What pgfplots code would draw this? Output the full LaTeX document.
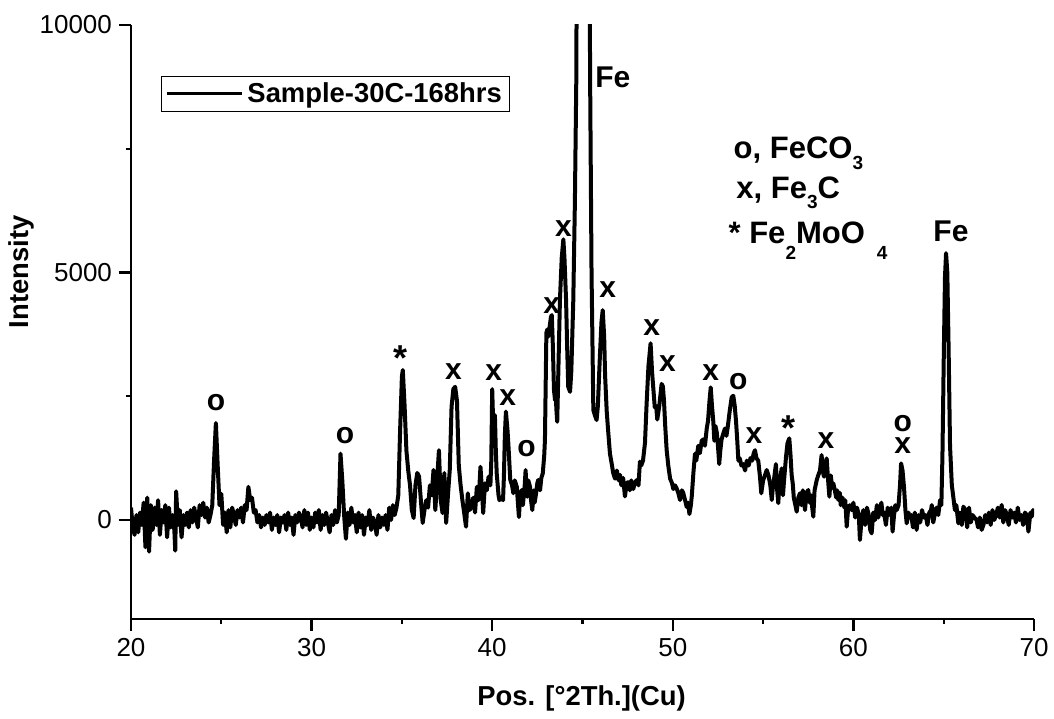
\documentclass[border=0pt]{standalone}
\usepackage{fontspec}
\setmainfont{Liberation Sans}
\usepackage{pgfplots}
\pgfplotsset{compat=1.18}

\newcommand\lbl{\bfseries\fontsize{13.7}{16}\selectfont}
\newcommand\pk{\bfseries\fontsize{15}{17}\selectfont}
\newcommand\cmp{\bfseries\fontsize{15.5}{18}\selectfont}
\newcommand\sub[2]{\raisebox{-#1}{\fontsize{9.5}{10}\selectfont #2}}

\begin{document}
\begin{tikzpicture}
\begin{axis}[
  scale only axis,
  width=451.5pt, height=297pt,
  xmin=20, xmax=70, ymin=-2000, ymax=10000,
  axis x line*=bottom, axis y line*=left,
  axis line style={-, line width=1.2pt},
  xtick={20,30,40,50,60,70},
  ytick={0,5000,10000},
  minor x tick num=1, minor y tick num=1,
  tick align=outside,
  major tick length=6pt, minor tick length=2.5pt,
  tick style={black, line width=1.2pt},
  scaled y ticks=false,
  /pgf/number format/1000 sep={},
  /pgf/number format/assume math mode=true,
  tick label style={font=\fontsize{13}{15}\selectfont},
  xlabel={Pos. [°2Th.](Cu)},
  ylabel={Intensity},
  label style={font=\lbl},
  xlabel style={at={(axis description cs:0.499,-0.1448)}, anchor=base},
  ylabel style={at={(axis description cs:-0.1218,0.5847)}, anchor=center},
  legend style={at={(axis cs:21.66,8969)}, anchor=north west,
    draw=black, line width=0.5pt, fill=white, font=\lbl,
    inner xsep=2pt, inner ysep=1pt},
  legend cell align=left,
  legend image code/.code={\draw[#1,line width=1.5pt] (0pt,0pt) -- (37.5pt,0pt);},
]
\addplot[black, line width=2pt, line join=round] coordinates {
(20.0,250) (20.1,-150) (20.2,-300) (20.3,100) (20.4,-250) (20.5,150) (20.6,-100) (20.7,350)
(20.8,-550) (20.9,450) (21.0,-640) (21.1,300) (21.2,-200) (21.3,250) (21.4,-100) (21.5,400)
(21.6,-300) (21.7,200) (21.8,-50) (21.9,300) (22.0,-350) (22.1,250) (22.2,-150) (22.3,100)
(22.4,-200) (22.45,-620) (22.5,580) (22.6,-100) (22.7,200) (22.8,-350) (22.9,100) (23.0,-100)
(23.1,150) (23.2,-150) (23.3,200) (23.4,-50) (23.5,250) (23.6,50) (23.7,-150) (23.8,300)
(23.9,100) (24.0,350) (24.1,50) (24.2,250) (24.3,-50) (24.4,100) (24.5,300) (24.6,1200)
(24.7,1960) (24.8,1100) (24.9,300) (25.0,530) (25.1,-100) (25.2,150) (25.3,-250) (25.4,200)
(25.5,-150) (25.6,250) (25.7,100) (25.8,-100) (25.9,200) (26.0,50) (26.1,250) (26.2,-50)
(26.3,300) (26.4,200) (26.5,670) (26.6,400) (26.7,450) (26.8,150) (26.9,200) (27.0,-50)
(27.1,100) (27.2,-150) (27.3,50) (27.4,-100) (27.5,100) (27.6,-50) (27.7,150) (27.8,-200)
(27.9,50) (28.0,-100) (28.1,100) (28.2,-250) (28.3,50) (28.4,-50) (28.5,100) (28.6,-200)
(28.7,150) (28.8,-100) (28.9,50) (29.0,-300) (29.1,100) (29.2,-50) (29.3,150) (29.4,50)
(29.5,-150) (29.6,200) (29.7,-100) (29.8,150) (29.9,-200) (30.0,50) (30.1,-150) (30.2,150)
(30.3,-50) (30.4,200) (30.5,-200) (30.6,100) (30.7,-100) (30.8,150) (30.9,-50) (31.0,-250)
(31.1,100) (31.2,-100) (31.3,200) (31.4,-50) (31.5,100) (31.6,1340) (31.7,800) (31.8,100)
(31.9,-380) (32.0,150) (32.1,-100) (32.2,250) (32.3,-50) (32.4,100) (32.5,-250) (32.6,150)
(32.7,-150) (32.8,100) (32.9,-300) (33.0,50) (33.1,-100) (33.2,200) (33.3,-200) (33.4,50)
(33.5,-50) (33.6,-300) (33.7,100) (33.8,-150) (33.9,50) (34.0,-100) (34.1,100) (34.2,-200)
(34.3,250) (34.4,0) (34.5,300) (34.6,100) (34.7,250) (34.8,500) (34.9,1800) (35.0,2900)
(35.05,3030) (35.15,2300) (35.25,1400) (35.35,1000) (35.45,700) (35.55,200) (35.65,40) (35.75,700)
(35.85,950) (35.95,880) (36.05,400) (36.15,-60) (36.25,200) (36.35,400) (36.45,250) (36.55,700)
(36.65,500) (36.75,1010) (36.85,200) (36.95,800) (37.05,1410) (37.15,400) (37.25,140) (37.35,950)
(37.45,-60) (37.55,500) (37.65,1010) (37.75,2290) (37.85,2650) (37.95,2690) (38.05,2400) (38.15,1100)
(38.25,700) (38.35,400) (38.45,140) (38.55,-135) (38.65,540) (38.75,200) (38.85,270) (38.95,450)
(39.05,150) (39.15,670) (39.25,400) (39.35,1075) (39.45,500) (39.5,140) (39.6,740) (39.7,600)
(39.8,875) (39.9,700) (39.95,1200) (40.0,2645) (40.05,2000) (40.1,1885) (40.15,2120) (40.2,1400)
(40.25,940) (40.35,500) (40.4,400) (40.5,450) (40.6,400) (40.65,900) (40.7,1700) (40.76,2190)
(40.85,1800) (40.9,1500) (41.0,810) (41.1,700) (41.17,540) (41.25,800) (41.36,673) (41.48,60)
(41.55,500) (41.63,605) (41.7,300) (41.8,700) (41.85,1010) (41.9,600) (41.94,470) (42.0,800)
(42.09,673) (42.15,400) (42.22,200) (42.3,600) (42.35,350) (42.43,540) (42.5,750) (42.55,810)
(42.65,600) (42.72,850) (42.8,940) (42.88,1300) (42.92,1615) (43.0,3780) (43.05,3850) (43.1,3700)
(43.18,3900) (43.25,4100) (43.3,4140) (43.36,3500) (43.42,2625) (43.48,2420) (43.52,2500) (43.56,2200)
(43.6,1985) (43.65,2800) (43.75,4440) (43.85,5300) (43.94,5670) (44.0,5300) (44.09,4440) (44.15,3500)
(44.21,2690) (44.31,2590) (44.38,3000) (44.49,4440) (44.58,6460) (44.66,9000) (44.75,20000) (45.0,40000)
(45.3,20000) (45.42,9000) (45.5,5000) (45.6,2220) (45.7,2100) (45.78,2020) (45.85,2300) (45.95,3200)
(46.05,4000) (46.12,4240) (46.2,3700) (46.25,2930) (46.34,2200) (46.42,1800) (46.52,1340) (46.62,1130)
(46.7,950) (46.8,836) (46.9,1000) (47.0,800) (47.08,910) (47.15,700) (47.25,850) (47.35,476)
(47.45,750) (47.54,766) (47.62,600) (47.7,800) (47.81,625) (47.9,750) (48.0,806) (48.1,700)
(48.18,1180) (48.25,1100) (48.35,1200) (48.46,1560) (48.55,2350) (48.65,3100) (48.77,3570) (48.85,3000)
(49.0,2280) (49.08,2300) (49.14,2030) (49.25,2300) (49.38,2750) (49.45,2700) (49.51,2420) (49.58,1900)
(49.66,1410) (49.75,1100) (49.85,836) (49.95,750) (50.03,625) (50.12,700) (50.2,650) (50.3,550)
(50.4,404) (50.5,600) (50.58,547) (50.68,400) (50.77,262) (50.85,350) (50.92,120) (51.0,300)
(51.05,480) (51.15,1000) (51.23,1340) (51.3,1200) (51.41,1500) (51.5,1350) (51.6,1600) (51.69,1630)
(51.78,1500) (51.88,1850) (51.95,2000) (52.03,2400) (52.1,2680) (52.17,2300) (52.24,2000) (52.3,1600)
(52.36,1900) (52.43,1780) (52.5,1500) (52.57,1130) (52.63,1400) (52.7,1630) (52.8,1750) (52.89,1850)
(52.97,1700) (53.05,1900) (53.15,2200) (53.26,2480) (53.35,2510) (53.43,2300) (53.5,2000) (53.57,1600)
(53.63,1200) (53.7,1250) (53.8,1100) (53.9,1130) (54.0,1000) (54.1,1200) (54.2,1100) (54.3,1250)
(54.4,1200) (54.48,1350) (54.55,1410) (54.63,1250) (54.73,1200) (54.82,900) (54.9,540) (55.0,800)
(55.1,900) (55.2,1010) (55.3,900) (55.4,700) (55.48,404) (55.55,700) (55.6,808) (55.71,1130)
(55.78,600) (55.84,340) (55.9,700) (55.97,900) (56.03,1044) (56.1,500) (56.16,800) (56.27,1280)
(56.35,1550) (56.45,1650) (56.52,1300) (56.58,910) (56.64,740) (56.7,450) (56.77,330) (56.86,168)
(56.95,450) (57.04,540) (57.12,300) (57.2,600) (57.32,200) (57.4,550) (57.5,606) (57.58,350)
(57.65,500) (57.72,250) (57.78,67) (57.85,600) (57.97,808) (58.05,900) (58.15,1000) (58.24,1313)
(58.3,1000) (58.37,875) (58.45,1150) (58.52,1245) (58.6,800) (58.67,470) (58.75,900) (58.82,650)
(58.89,740) (58.97,600) (59.05,450) (59.1,600) (59.17,404) (59.25,550) (59.3,300) (59.4,450)
(59.5,250) (59.55,400) (59.63,-135) (59.7,200) (59.8,300) (59.9,200) (60.0,350) (60.1,50)
(60.2,250) (60.3,100) (60.36,-404) (60.45,0) (60.55,200) (60.65,-100) (60.75,250) (60.85,100)
(60.93,-200) (61.01,-270) (61.1,150) (61.2,0) (61.3,300) (61.38,50) (61.47,236) (61.55,350)
(61.62,100) (61.7,150) (61.8,-100) (61.9,250) (61.97,100) (62.03,135) (62.1,250) (62.17,-235)
(62.25,100) (62.32,300) (62.4,200) (62.5,300) (62.58,700) (62.64,1145) (62.72,1000) (62.8,673)
(62.88,200) (62.95,-67) (63.05,150) (63.12,50) (63.2,100) (63.3,-150) (63.4,150) (63.5,-200)
(63.6,100) (63.7,-50) (63.8,200) (63.9,50) (64.0,100) (64.1,-100) (64.2,150) (64.3,200)
(64.34,303) (64.42,-50) (64.5,100) (64.6,250) (64.7,100) (64.8,404) (64.87,300) (64.93,1300)
(65.0,3200) (65.07,4900) (65.13,5390) (65.2,5000) (65.27,3500) (65.35,1500) (65.45,700) (65.53,470)
(65.62,200) (65.7,300) (65.81,-67) (65.9,150) (66.0,-100) (66.09,270) (66.2,200) (66.3,-150)
(66.4,250) (66.5,-50) (66.6,100) (66.7,50) (66.82,0) (66.9,-150) (67.0,50) (67.1,-200)
(67.2,-100) (67.3,100) (67.4,-50) (67.5,150) (67.6,-100) (67.7,200) (67.8,0) (67.9,100)
(68.0,250) (68.1,50) (68.21,303) (68.3,-50) (68.4,200) (68.5,100) (68.6,-100) (68.7,200)
(68.8,50) (68.9,150) (69.0,-50) (69.1,250) (69.2,0) (69.3,100) (69.4,-100) (69.5,150)
(69.6,100) (69.69,-235) (69.8,150) (69.87,67) (69.95,200) (70.0,160)
};
\addlegendentry{Sample-30C-168hrs}

% phase markers
\begin{scope}[every node/.style={font=\pk, anchor=base, inner sep=0pt}]
\node at (axis cs:24.71,2220) {o};
\node at (axis cs:31.85,1550) {o};
\node[font=\bfseries\fontsize{18}{20}\selectfont] at (axis cs:34.9,3012) {*};
\node at (axis cs:37.85,2842) {x};
\node at (axis cs:40.08,2828) {x};
\node at (axis cs:40.86,2323) {x};
\node at (axis cs:41.9,1280) {o};
\node at (axis cs:43.29,4170) {x};
\node at (axis cs:43.94,5723) {x};
\node at (axis cs:46.39,4500) {x};
\node at (axis cs:48.83,3737) {x};
\node at (axis cs:49.71,3000) {x};
\node at (axis cs:52.1,2820) {x};
\node at (axis cs:53.63,2640) {o};
\node at (axis cs:54.5,1545) {x};
\node[font=\bfseries\fontsize{18}{20}\selectfont] at (axis cs:56.42,1598) {*};
\node at (axis cs:58.48,1448) {x};
\node at (axis cs:62.73,1347) {\shortstack{o\\x}};
\node[anchor=base west] at (axis cs:45.69,8737) {Fe};
\node[anchor=base west] at (axis cs:64.41,5636) {Fe};
\end{scope}
\begin{scope}[every node/.style={font=\cmp, anchor=base west, inner sep=0pt}]
\node at (axis cs:53.35,7306) {o, FeCO\sub{5.5pt}{3}};
\node at (axis cs:53.5,6498) {x, Fe\sub{5pt}{3}C};
\node at (axis cs:53.07,5589) {* Fe\sub{8.3pt}{2}MoO\hspace{6pt}\sub{8.3pt}{4}};
\end{scope}
\coordinate (bl) at (rel axis cs:0,0);
\coordinate (tr) at (rel axis cs:1,1);
\end{axis}
\pgfresetboundingbox
\useasboundingbox ([shift={(-65.5pt,-49.5pt)}]bl) rectangle ([shift={(10pt,12.5pt)}]tr);
\end{tikzpicture}
\end{document}
